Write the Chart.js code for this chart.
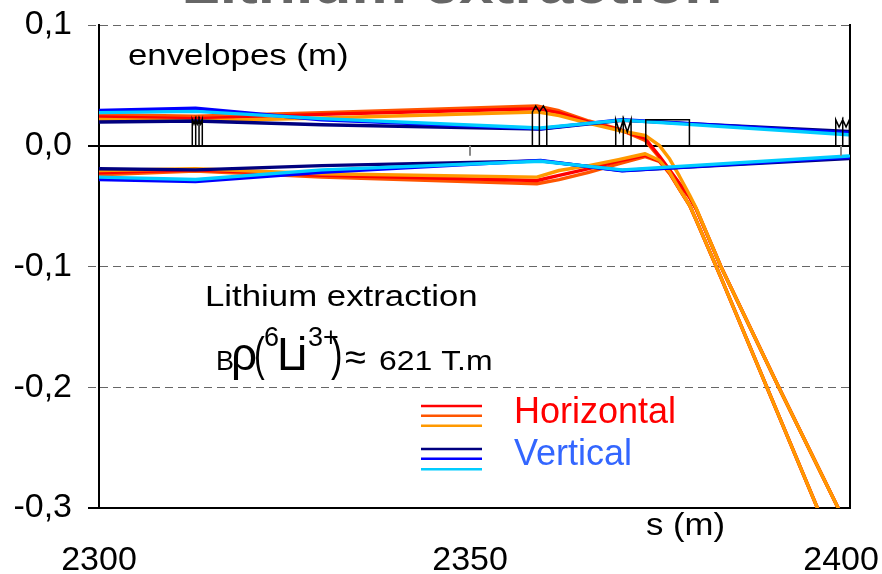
<!DOCTYPE html>
<html><head><meta charset="utf-8">
<script src="https://cdn.jsdelivr.net/npm/chart.js@4/dist/chart.umd.min.js"></script>
<style>html,body{margin:0;padding:0;background:#fff;}#wrap{width:882px;height:574px;}</style>
</head><body><div id="wrap"><canvas id="c" width="882" height="574"></canvas></div>
<script>
// ---------- data ----------
const xTicks = [2300, 2350, 2400];
const yTicks = [0.1, 0, -0.1, -0.2, -0.3];

// vertical envelopes
const sV = [2300, 2313, 2330, 2359.5, 2370.5, 2401];
const vNavyTop = [0.0197, 0.0205, 0.0174, 0.0138, 0.0210, 0.0119];
const vBlueTop = [0.0293, 0.0310, 0.0215, 0.0141, 0.0216, 0.0105];
const vCyanTop = [0.0274, 0.0285, 0.0225, 0.0147, 0.0212, 0.0091];
const vNavyBot = [-0.0190, -0.0200, -0.0165, -0.0125, -0.0205, -0.0105];
const vBlueBot = [-0.0280, -0.0296, -0.0220, -0.0122, -0.0208, -0.0095];
const vCyanBot = [-0.0260, -0.0280, -0.0200, -0.0128, -0.0200, -0.0085];

// horizontal envelopes
const sH = [2300, 2313, 2330, 2359, 2362, 2366, 2370, 2373.6, 2375.5, 2376.9, 2378.2, 2379.6, 2380.5, 2383.8, 2391.6, 2399.6];
const hOrangeRedTop = [0.0257, 0.0245, 0.0274, 0.0330, 0.0290, 0.0205, 0.0140, 0.0044, -0.0096, -0.0211, -0.0318, -0.0430, -0.0530, -0.100, -0.200, -0.300];
const hRedTop = [0.0238, 0.0225, 0.0260, 0.0307, 0.0272, 0.0195, 0.0135, 0.0060, -0.0085, -0.0200, -0.0310, -0.0425, -0.0525, -0.100, -0.200, -0.300];
const hOrangeTop = [0.0218, 0.0205, 0.0230, 0.0280, 0.0250, 0.0185, 0.0128, 0.0085, 0.0003, -0.0110, -0.0250, -0.0410, -0.0520, -0.100, -0.200, -0.300];
const hOrangeRedBot = [-0.0240, -0.0210, -0.0260, -0.0315, -0.0280, -0.0220, -0.0150, -0.0090, -0.0130, -0.0230, -0.0360, -0.0495, -0.0620, -0.109, -0.2235, -0.341];
const hRedBot = [-0.0224, -0.0200, -0.0245, -0.0288, -0.0246, -0.0190, -0.0128, -0.0080, -0.0125, -0.0225, -0.0358, -0.0495, -0.0620, -0.109, -0.2235, -0.341];
const hOrangeBot = [-0.0205, -0.0190, -0.0232, -0.0260, -0.0205, -0.0165, -0.0115, -0.0066, -0.0120, -0.0220, -0.0357, -0.0495, -0.0620, -0.109, -0.2235, -0.341];

// lattice outline (magnets)
const latticeS = [2300, 2312.57, 2312.57, 2312.80, 2313.03, 2313.03, 2313.03, 2313.25, 2313.48, 2313.48, 2313.48, 2313.70, 2313.92, 2313.92,
  2358.40, 2358.40, 2358.85, 2359.34, 2359.34, 2359.34, 2359.88, 2360.34, 2360.34,
  2369.63, 2369.63, 2370.14, 2370.65, 2370.65, 2370.65, 2371.19, 2371.70, 2371.70,
  2373.68, 2373.68, 2379.56, 2379.56,
  2399.28, 2399.28, 2399.73, 2400.22, 2400.22, 2400.22, 2400.67, 2401.12, 2401.12];
const latticeY = [0, 0, 0.0218, 0.018, 0.0218, 0, 0.0218, 0.018, 0.0218, 0, 0.0218, 0.018, 0.0218, 0,
  0, 0.028, 0.033, 0.028, 0, 0.028, 0.033, 0.028, 0,
  0, 0.0216, 0.0114, 0.0216, 0, 0.0216, 0.0114, 0.0216, 0,
  0, 0.0216, 0.0216, 0,
  0, 0.0216, 0.0155, 0.0216, 0, 0.0216, 0.0155, 0.0216, 0];

// ---------- helpers ----------
const FONT = '"Liberation Sans", Arial, sans-serif';
const pts = (xs, ys) => xs.map((x, i) => ({x: x, y: ys[i]}));
const isVal = (t, v) => t && Math.abs(t.value - v) < 1e-9;
const solidTick = t => isVal(t, 0) || isVal(t, -0.3);
const noPad = s => { s.paddingLeft = 0; s.paddingRight = 0; s.paddingTop = 0; s.paddingBottom = 0; };
function line(data, color, order, width) {
  return {data: data, borderColor: color, backgroundColor: color, borderWidth: width || 3.4,
    pointRadius: 0, fill: false, tension: 0, order: order, borderCapStyle: 'round', borderJoinStyle: 'round'};
}
function txt(ctx, s, x, y, size, color, sx, weight, align) {
  ctx.save();
  ctx.translate(x, y); ctx.scale(sx || 1, 1);
  ctx.font = (weight || 'normal') + ' ' + size + 'px ' + FONT;
  ctx.fillStyle = color; ctx.textAlign = align || 'left'; ctx.textBaseline = 'alphabetic';
  ctx.fillText(s, 0, 0);
  ctx.restore();
}

const decor = {
  id: 'decor',
  afterDatasetsDraw(chart) {
    const ctx = chart.ctx, xs = chart.scales.x, ys = chart.scales.y;
    ctx.save();
    ctx.strokeStyle = '#888'; ctx.lineWidth = 2;
    xTicks.slice(1).forEach(v => {
      const px = Math.round(xs.getPixelForValue(v)), py = ys.getPixelForValue(0);
      ctx.beginPath(); ctx.moveTo(px, py); ctx.lineTo(px, py + 10); ctx.stroke();
    });
    ctx.restore();
  },
  afterDraw(chart) {
    const ctx = chart.ctx;
    txt(ctx, 'Lithium extraction', 452, 3, 52, '#666', 1.2, 'bold', 'center');
    txt(ctx, 'envelopes (m)', 128, 65, 29, '#000', 1.2);
    txt(ctx, 'Lithium extraction', 205, 306, 29, '#000', 1.2);
    // B rho formula
    txt(ctx, 'B', 216, 370, 27, '#000');
    txt(ctx, '\u03C1', 231, 370, 46, '#000');
    txt(ctx, '(', 254, 370, 46, '#000', 0.7);
    txt(ctx, '6', 264, 346, 27, '#000');
    txt(ctx, 'L', 277, 370, 46, '#000');
    txt(ctx, 'i', 297, 370, 46, '#000');
    txt(ctx, '3+', 308, 346, 27, '#000');
    txt(ctx, ')', 331, 370, 46, '#000', 0.75);
    txt(ctx, '\u2248', 345, 370, 38, '#000');
    txt(ctx, '621 T.m', 379, 370, 28, '#000', 1.14);
    txt(ctx, 's (m)', 646, 535, 31, '#000', 1.12);
    // legend
    const leg = [[406, '#ff0000'], [415.7, '#ff5500'], [425.7, '#ff9900'], [449, '#00007f'], [458.7, '#0000ff'], [469.3, '#00ccff']];
    ctx.save(); ctx.lineWidth = 2.6;
    leg.forEach(l => { ctx.strokeStyle = l[1]; ctx.beginPath(); ctx.moveTo(421, l[0]); ctx.lineTo(482, l[0]); ctx.stroke(); });
    ctx.restore();
    txt(ctx, 'Horizontal', 514, 423, 36, '#ff0000');
    txt(ctx, 'Vertical', 514, 465, 36, '#3366ff');
  }
};

new Chart(document.getElementById('c'), {
  type: 'line',
  data: {
    datasets: [
      Object.assign(line(pts(latticeS, latticeY), '#000', -1, 1.5), {borderJoinStyle: 'miter', borderCapStyle: 'butt'}),
      line(pts(sV, vCyanTop), '#00ccff', 1), line(pts(sV, vCyanBot), '#00ccff', 1),
      line(pts(sV, vBlueTop), '#0000ff', 2), line(pts(sV, vBlueBot), '#0000ff', 2),
      line(pts(sV, vNavyTop), '#00007f', 3), line(pts(sV, vNavyBot), '#00007f', 3),
      line(pts(sH, hOrangeTop), '#ff9900', 4), line(pts(sH, hOrangeBot), '#ff9900', 4),
      line(pts(sH, hRedTop), '#ff0000', 5), line(pts(sH, hRedBot), '#ff0000', 5),
      line(pts(sH, hOrangeRedTop), '#ff5500', 6), line(pts(sH, hOrangeRedBot), '#ff5500', 6)
    ]
  },
  options: {
    responsive: false, animation: false, devicePixelRatio: 1, events: [],
    layout: {padding: {top: 25, left: 0, right: 0, bottom: 0}},
    plugins: {legend: {display: false}, tooltip: {enabled: false}, title: {display: false}},
    scales: {
      x: {
        type: 'linear', min: 2300, max: 2401.2,
        afterBuildTicks: s => { s.ticks = xTicks.map(v => ({value: v})); },
        afterFit: s => { s.height = 66; noPad(s); },
        grid: {display: false, drawTicks: false},
        border: {display: true, color: '#000', width: 2},
        ticks: {font: {family: FONT, size: 34}, color: '#000', padding: 32, maxRotation: 0, callback: v => String(v)}
      },
      y: {
        type: 'linear', min: -0.3, max: 0.1,
        afterBuildTicks: s => { s.ticks = yTicks.map(v => ({value: v})); },
        afterFit: s => { s.width = 99; noPad(s); },
        grid: {
          color: c => solidTick(c.tick) ? '#000' : '#666',
          tickColor: c => solidTick(c.tick) ? '#000' : '#666',
          lineWidth: c => solidTick(c.tick) ? 2 : 1,
          tickWidth: c => solidTick(c.tick) ? 2 : 1,
          tickLength: 11,
          tickBorderDash: c => solidTick(c.tick) ? [] : [8, 5]
        },
        border: {display: true, color: '#000', width: 2, dash: c => (c.tick && !solidTick(c.tick)) ? [8, 5] : []},
        ticks: {font: {family: FONT, size: 34}, color: '#000', padding: 16,
          callback: v => (Math.abs(v) < 1e-9 ? 0 : v).toFixed(1).replace('.', ',')}
      },
      y2: {
        type: 'linear', position: 'right', min: -0.3, max: 0.1,
        afterFit: s => { s.width = 32; noPad(s); },
        grid: {display: false, drawTicks: false},
        border: {display: true, color: '#000', width: 2},
        ticks: {display: false}
      }
    }
  },
  plugins: [decor]
});
</script></body></html>
